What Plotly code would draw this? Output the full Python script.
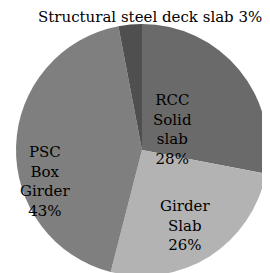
import plotly.graph_objects as go

categories = ["RCC Solid slab", "Girder Slab", "PSC Box Girder", "Structural steel deck slab"]
values = [28, 26, 43, 3]
label_lines = [["RCC", "Solid", "slab"], ["Girder", "Slab"], ["PSC", "Box", "Girder"], ["Structural steel deck slab"]]
colors = ["#6a6a6a", "#b3b3b3", "#7f7f7f", "#4f4f4f"]

W, H = 270, 273
OFF = 8  # page body margin
cx, cy, r = 142 - OFF, 150 - OFF, 126
FONT = "DejaVu Serif"

fig = go.Figure(go.Pie(
    labels=categories, values=values, sort=False, direction="clockwise", rotation=0,
    marker=dict(colors=colors, line=dict(width=0)), textinfo="none", hoverinfo="label+percent",
    domain=dict(x=[(cx - r) / W, (cx + r) / W], y=[max(0, 1 - (cy + r) / H), 1 - (cy - r) / H]),
    showlegend=False,
))

label_pos = [(172, 129), (185, 225), (45, 181), (150, 17)]
total = sum(values)
for i, (name, v) in enumerate(zip(categories, values)):
    pct = f"{round(100 * v / total)}%"
    if i == 3:
        txt = label_lines[i][0] + " " + pct
    else:
        txt = "<br>".join(label_lines[i] + [pct])
    x, y = label_pos[i]
    fig.add_annotation(x=(x - OFF) / W, y=1 - (y - OFF) / H, xref="paper", yref="paper", text=txt,
                       showarrow=False, xanchor="center", yanchor="middle", align="center",
                       font=dict(family=FONT, size=15, color="black"))

fig.update_layout(width=W, height=H, margin=dict(l=0, r=0, t=0, b=0),
                  paper_bgcolor="white", plot_bgcolor="white", font=dict(family=FONT))
fig.write_html("out.html")
